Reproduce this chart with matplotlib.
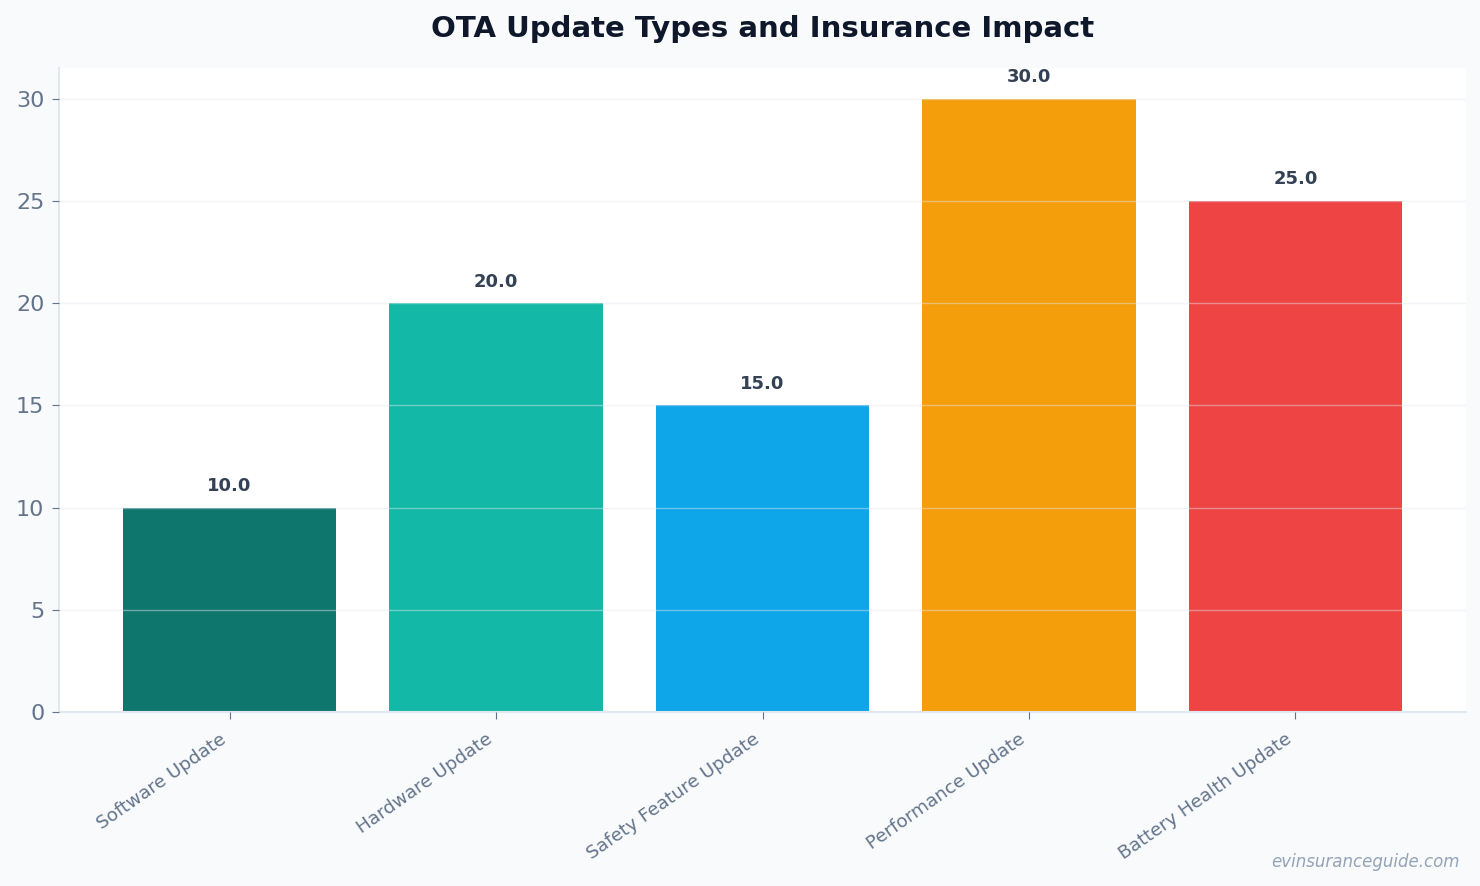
import matplotlib
matplotlib.use('Agg')
import matplotlib.pyplot as plt

# chart data
categories = ['Software Update', 'Hardware Update', 'Safety Feature Update',
              'Performance Update', 'Battery Health Update']
values = [10.0, 20.0, 15.0, 30.0, 25.0]
colors = ['#0f766e', '#14b8a6', '#0ea5e9', '#f59e0b', '#ef4444']

plt.rcParams['font.family'] = ['DejaVu Sans']

fig = plt.figure(figsize=(14.8, 8.86), dpi=100, facecolor='#f8fafc')
ax = fig.add_axes([59 / 1480, 1 - 712 / 886, (1466 - 59) / 1480, (712 - 68) / 886])
ax.set_facecolor('white')

x = range(len(categories))
bars = ax.bar(x, values, width=0.8, color=colors, zorder=2)

# value labels above the bars
for b, v in zip(bars, values):
    ax.annotate(f'{v:.1f}', (b.get_x() + b.get_width() / 2, v),
                xytext=(0, 9), textcoords='offset points',
                ha='center', va='bottom', fontsize=13, fontweight='bold',
                color='#334155')

ax.set_ylim(0, 31.5)
ax.set_yticks([0, 5, 10, 15, 20, 25, 30])
ax.set_xticks(list(x))
ax.set_xticklabels(categories, rotation=35, ha='right',
                   fontsize=13.2, color='#64748b')
ax.tick_params(axis='y', labelsize=16, labelcolor='#64748b', color='#64748b',
               length=5, pad=5.5)
ax.tick_params(axis='x', color='#64748b', length=5, pad=8)

ax.grid(axis='y', color='#e2e8f0', alpha=0.45, linewidth=1, zorder=3)
ax.set_axisbelow(False)

for s in ['top', 'right']:
    ax.spines[s].set_visible(False)
for s in ['left', 'bottom']:
    ax.spines[s].set_color('#e2e8f0')
    ax.spines[s].set_linewidth(1.5)

ax.set_title('OTA Update Types and Insurance Impact', fontsize=21,
             fontweight='bold', color='#0f172a', pad=22)

fig.text(1460 / 1480, 1 - 862 / 886, 'evinsuranceguide.com', ha='right', va='center',
         fontsize=12, style='italic', color='#94a3b8')

fig.savefig('out.png', dpi=100, facecolor=fig.get_facecolor())
